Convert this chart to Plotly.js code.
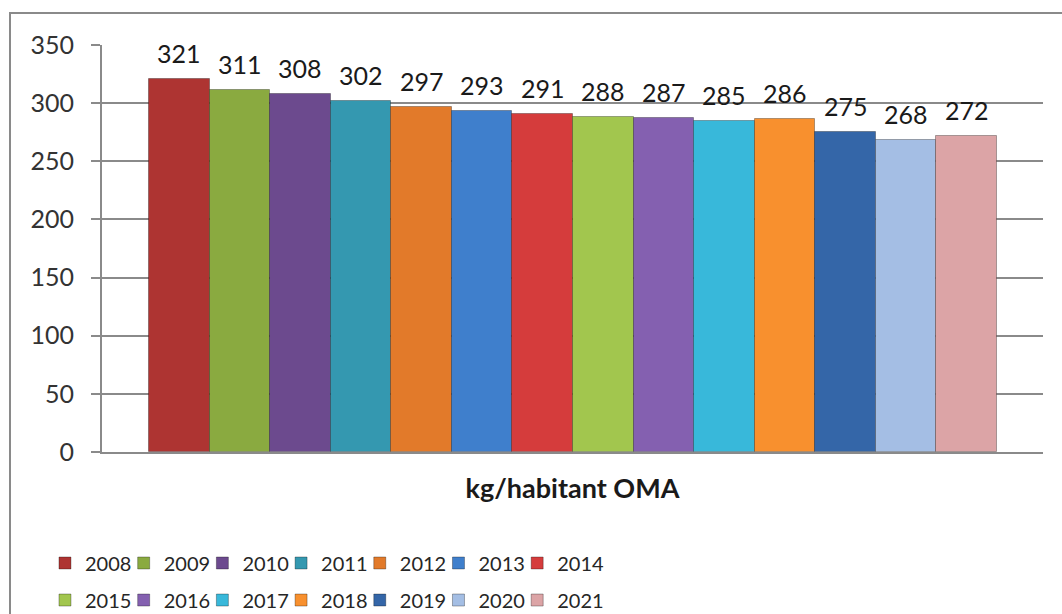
<!DOCTYPE html>
<html>
<head>
<meta charset="utf-8">
<script src="https://cdn.plot.ly/plotly-3.0.1.min.js"></script>
<style>
  html, body { margin: 0; padding: 0; background: #fff; }
  #wrap { position: relative; width: 1062px; height: 614px; overflow: hidden; }
  #chart { width: 1062px; height: 614px; }
  #frame { position: absolute; left: 9px; top: 12px; right: -10px; bottom: -10px;
           border-left: 2px solid #8a8a8a; border-top: 2px solid #8a8a8a; pointer-events: none; }
</style>
</head>
<body>
<div id="wrap">
  <div id="chart"></div>
  <div id="frame"></div>
</div>
<script>
const years = ["2008","2009","2010","2011","2012","2013","2014","2015","2016","2017","2018","2019","2020","2021"];
const values = [321, 311, 308, 302, 297, 293, 291, 288, 287, 285, 286, 275, 268, 272];
const colors = ["#ae3432","#8aaa40","#6c4a8e","#3498b0","#e27a2a","#3f7fcc","#d53c3c",
                "#a2c64e","#8460b0","#38b8da","#f8902e","#3466a8","#a4bee4","#dca4a6"];
const categoryLabel = "kg/habitant OMA";
const yTicks = [0, 50, 100, 150, 200, 250, 300, 350];

const FONT = "Lato, 'Open Sans', sans-serif";

const traces = years.map((yr, i) => ({
  type: "bar",
  name: yr,
  x: [yr],
  y: [values[i]],
  marker: { color: colors[i], line: { color: "rgba(0,0,0,0.3)", width: 1 } },
  legend: i < 7 ? "legend" : "legend2",
  legendrank: i + 1,
  hoverinfo: "name+y"
}));

// invisible spacer entries so the last legend label of each row is not clipped
["legend", "legend2"].forEach((lg, k) => {
  traces.push({
    type: "bar", name: " ", x: [years[0]], y: [0],
    marker: { color: "rgba(0,0,0,0)", line: { width: 0 } },
    legend: lg, legendrank: 100 + k, hoverinfo: "skip"
  });
});

const annotations = years.map((yr, i) => ({
  x: i, y: values[i], xref: "x", yref: "y",
  text: String(values[i]),
  showarrow: false, yanchor: "bottom", yshift: 9,
  font: { family: FONT, size: 25, color: "#1a1a1a" }
}));

const legendCommon = {
  orientation: "h",
  xanchor: "left",
  yanchor: "middle",
  font: { family: FONT, size: 20, color: "#262626" },
  itemwidth: 30,
  entrywidth: 33.7,
  entrywidthmode: "pixels",
  tracegroupgap: 0,
  traceorder: "normal",
  bgcolor: "rgba(0,0,0,0)",
  itemclick: false, itemdoubleclick: false
};

const layout = {
  width: 1062, height: 614,
  margin: { l: 102, r: 19, t: 45, b: 162, autoexpand: false },
  paper_bgcolor: "#ffffff",
  plot_bgcolor: "#ffffff",
  barmode: "overlay",
  bargap: 0,
  showlegend: true,
  xaxis: {
    type: "category",
    categoryorder: "array",
    categoryarray: years,
    range: [-1.276, 14.26],
    showticklabels: false,
    ticks: "",
    showgrid: false,
    zeroline: false,
    showline: true, linecolor: "#8a8a8a", linewidth: 2,
    title: { text: "<b>" + categoryLabel + "</b>", standoff: 26,
             font: { family: FONT, size: 27, color: "#1a1a1a" } },
    fixedrange: true
  },
  yaxis: {
    range: [0, 350],
    tickvals: yTicks,
    ticktext: yTicks.map(String),
    ticks: "outside", ticklen: 9, tickwidth: 2, tickcolor: "#8a8a8a",
    ticklabelstandoff: 12,
    showgrid: true, gridcolor: "#8a8a8a", gridwidth: 2,
    showline: true, linecolor: "#8a8a8a", linewidth: 2,
    zeroline: false,
    tickfont: { family: FONT, size: 25, color: "#333333" },
    fixedrange: true
  },
  legend: Object.assign({}, legendCommon, { x: -0.0606, y: -0.2727 }),
  legend2: Object.assign({}, legendCommon, { x: -0.0606, y: -0.3637 }),
  annotations: annotations
};

Plotly.newPlot("chart", traces, layout, { displayModeBar: false });
</script>
</body>
</html>
